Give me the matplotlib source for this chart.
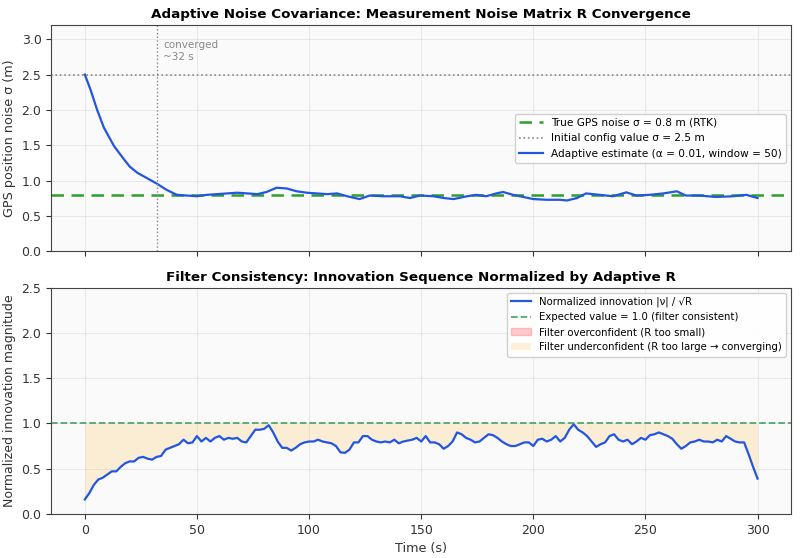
import matplotlib.pyplot as plt
import numpy as np

# --- adaptive sigma estimate (top panel) ---
t_sigma = [0, 2.5, 5.5, 8.5, 13, 17.5, 20, 23.5, 27.5, 32, 36.5, 41, 45.5, 50, 54.5, 59, 63.5,
           68, 72.5, 77, 81, 85.5, 90, 94.5, 99, 103.5, 108, 112.5, 117, 122.5, 127, 133,
           140.5, 145, 149.5, 155.5, 160, 164.5, 170.5, 174.5, 179, 183.5, 186.5, 191, 195.5,
           200, 206, 212, 215, 219.5, 223.5, 229.5, 235.5, 241.5, 246, 252, 258, 264, 268,
           274, 281.5, 289, 295, 300]
sigma_est = [2.5, 2.29, 2.0, 1.75, 1.49, 1.30, 1.2, 1.11, 1.04, 0.96, 0.87, 0.80, 0.79, 0.78,
             0.80, 0.81, 0.82, 0.83, 0.82, 0.81, 0.84, 0.90, 0.89, 0.85, 0.83, 0.82, 0.81, 0.82,
             0.78, 0.74, 0.79, 0.78, 0.78, 0.755, 0.79, 0.78, 0.755, 0.74, 0.78, 0.80, 0.78,
             0.82, 0.84, 0.80, 0.77, 0.74, 0.73, 0.73, 0.72, 0.755, 0.82, 0.80, 0.78, 0.835,
             0.79, 0.80, 0.82, 0.85, 0.79, 0.79, 0.77, 0.78, 0.80, 0.755]
sigma_true = 0.8
sigma_init = 2.5
t_converged = 32

# --- normalized innovation (bottom panel), every 2 s ---
t_innov = list(range(0, 301, 2))
innov = [0.16, 0.23, 0.32, 0.38, 0.40, 0.435, 0.47, 0.47, 0.52, 0.56, 0.58, 0.58, 0.62, 0.63,
         0.61, 0.60, 0.63, 0.64, 0.71, 0.73, 0.75, 0.77, 0.82, 0.78, 0.79, 0.86, 0.80, 0.84,
         0.80, 0.84, 0.86, 0.82, 0.84, 0.83, 0.84, 0.80, 0.79, 0.86, 0.93, 0.93, 0.94, 0.98,
         0.90, 0.80, 0.73, 0.73, 0.70, 0.73, 0.77, 0.79, 0.80, 0.80, 0.82, 0.80, 0.79, 0.78,
         0.75, 0.68, 0.675, 0.71, 0.79, 0.79, 0.86, 0.86, 0.82, 0.80, 0.79, 0.80, 0.79, 0.82,
         0.78, 0.80, 0.81, 0.82, 0.84, 0.80, 0.86, 0.79, 0.79, 0.77, 0.72, 0.75, 0.80, 0.90,
         0.88, 0.84, 0.82, 0.79, 0.80, 0.84, 0.88, 0.87, 0.84, 0.80, 0.77, 0.75, 0.75, 0.77,
         0.79, 0.79, 0.75, 0.82, 0.83, 0.80, 0.82, 0.86, 0.80, 0.84, 0.93, 0.99, 0.93, 0.90,
         0.86, 0.80, 0.74, 0.77, 0.79, 0.86, 0.88, 0.82, 0.80, 0.82, 0.77, 0.80, 0.84, 0.82,
         0.87, 0.88, 0.90, 0.88, 0.86, 0.83, 0.77, 0.72, 0.75, 0.79, 0.80, 0.82, 0.80, 0.80,
         0.79, 0.82, 0.80, 0.86, 0.83, 0.80, 0.79, 0.79, 0.66, 0.52, 0.39]
expected = 1.0

BLUE = "#2255e0"
GREEN = "#2ca02c"
GRAY = "#888888"

fig, (ax1, ax2) = plt.subplots(2, 1, figsize=(8, 5.58), dpi=100, sharex=True)
fig.subplots_adjust(left=0.064, right=0.989, top=0.955, bottom=0.079, hspace=0.16)

for ax in (ax1, ax2):
    ax.set_facecolor("#fafafa")
    ax.grid(True, color="#e0e0e0", linewidth=0.6, alpha=0.8)
    ax.set_axisbelow(True)
    ax.tick_params(labelsize=9, colors="#333333")
    for s in ax.spines.values():
        s.set_color("#444444")

# top panel
ax1.axhline(sigma_true, color=GREEN, linestyle="--", linewidth=1.8, dashes=(5, 3),
            label="True GPS noise σ = 0.8 m (RTK)")
ax1.axhline(sigma_init, color=GRAY, linestyle=":", linewidth=1.2,
            label="Initial config value σ = 2.5 m")
ax1.plot(t_sigma, sigma_est, color=BLUE, linewidth=1.6,
         label="Adaptive estimate (α = 0.01, window = 50)")
ax1.axvline(t_converged, color=GRAY, linestyle=":", linewidth=1.0)
ax1.text(t_converged + 3, 2.83, "converged\n~32 s", fontsize=7.5, color=GRAY,
         va="center", linespacing=1.2)
ax1.set_ylim(0, 3.2)
ax1.set_xlim(-15, 315)
ax1.set_ylabel("GPS position noise σ (m)", fontsize=9.2, color="#333333")
ax1.set_title("Adaptive Noise Covariance: Measurement Noise Matrix R Convergence",
              fontsize=9.7, fontweight="bold", pad=5)
ax1.legend(loc="center right", fontsize=7.6, framealpha=0.9, edgecolor="#cccccc",
           handlelength=2.2)

# bottom panel
t_arr = np.array(t_innov)
y_arr = np.array(innov)
ax2.plot(t_innov, innov, color=BLUE, linewidth=1.6, label="Normalized innovation |ν| / √R")
ax2.axhline(expected, color="#3a9a55", linestyle="--", linewidth=1.3, alpha=0.85,
            label="Expected value = 1.0 (filter consistent)")
ax2.fill_between(t_arr, y_arr, expected, where=y_arr > expected, color="red", alpha=0.2,
                 label="Filter overconfident (R too small)")
ax2.fill_between(t_arr, y_arr, expected, where=y_arr <= expected, color="orange", alpha=0.15,
                 linewidth=0, label="Filter underconfident (R too large → converging)")
ax2.set_ylim(0, 2.5)
ax2.set_xticks([0, 50, 100, 150, 200, 250, 300])
ax2.set_xlabel("Time (s)", fontsize=9.2, color="#333333")
ax2.set_ylabel("Normalized innovation magnitude", fontsize=9, color="#333333")
ax2.set_title("Filter Consistency: Innovation Sequence Normalized by Adaptive R",
              fontsize=9.7, fontweight="bold", pad=5)
ax2.legend(loc="upper right", fontsize=7.3, framealpha=0.9, edgecolor="#cccccc")

fig.savefig("out.png", dpi=100)
